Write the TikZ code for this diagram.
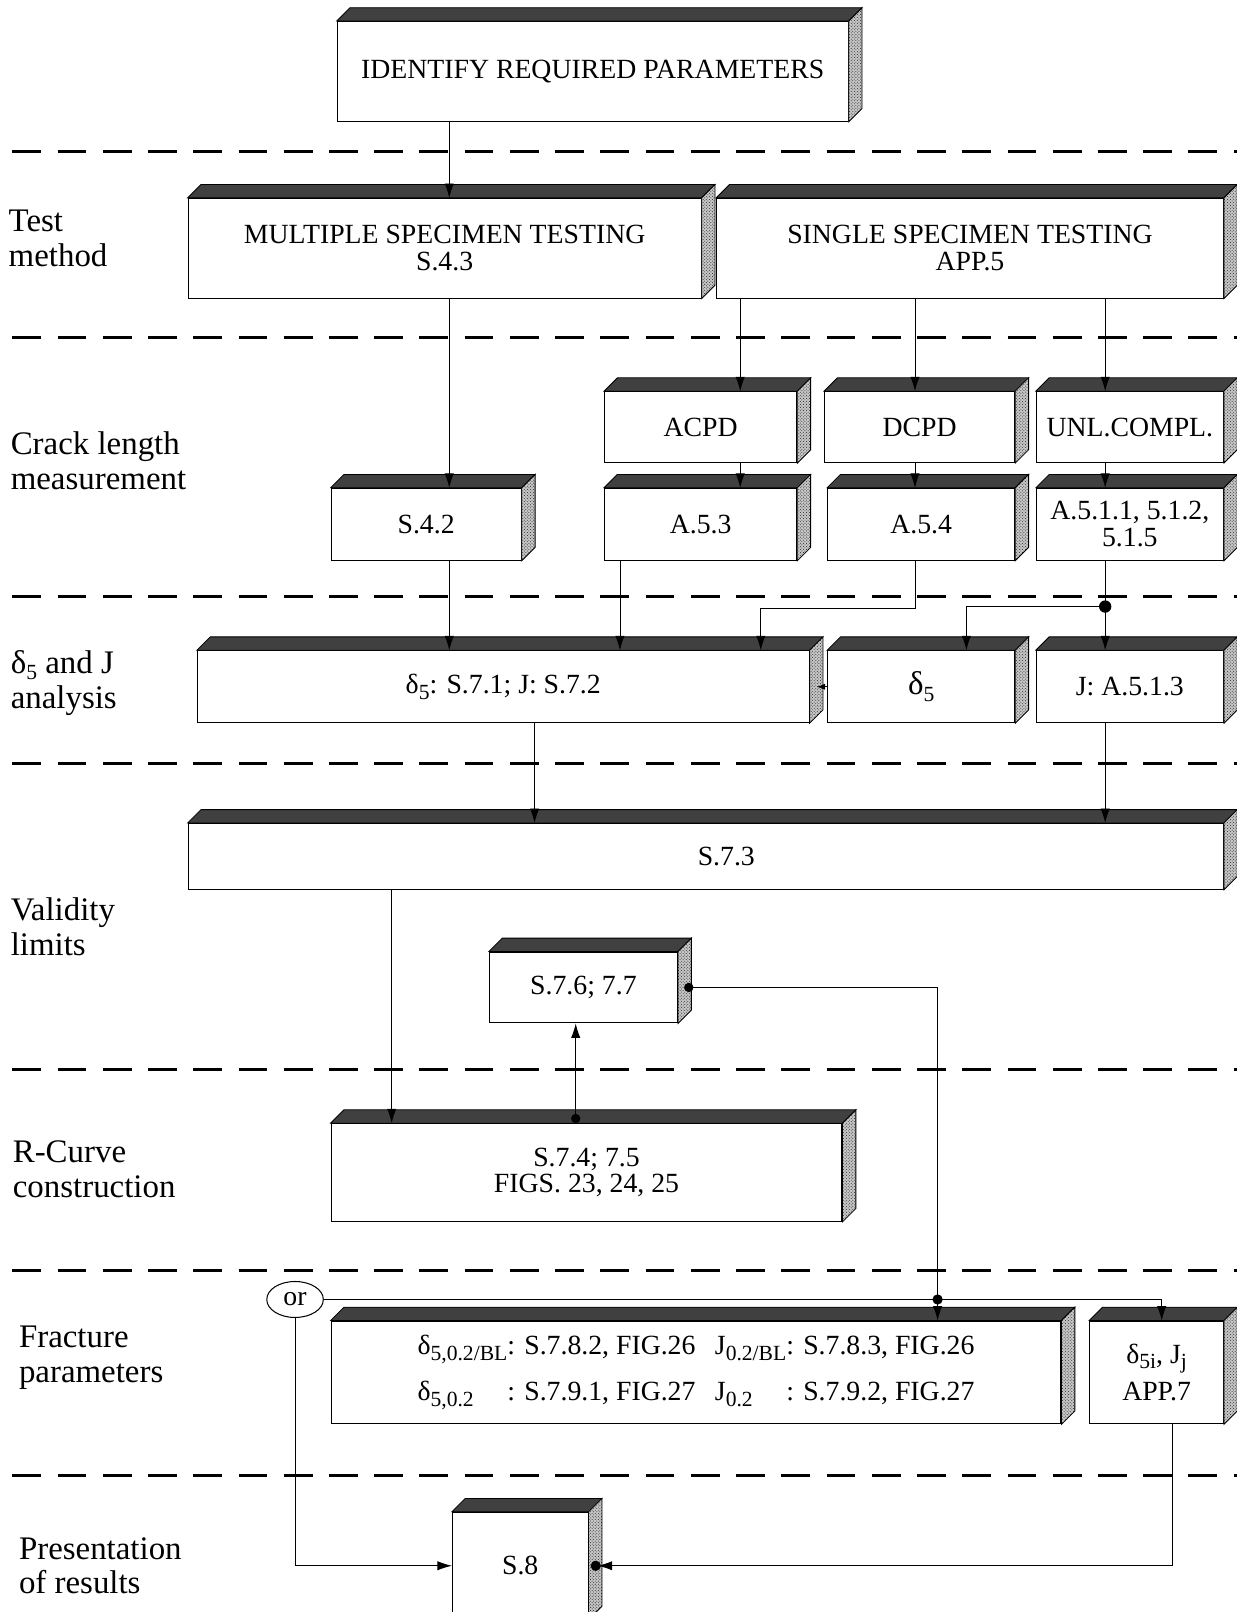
\documentclass[tikz,border=0pt]{standalone}
\usepackage{fontspec}
\setmainfont{Liberation Serif}
\usetikzlibrary{calc,arrows.meta,shapes.geometric,patterns}

\newcommand\boxfont{\fontsize{27}{26}\selectfont}
\newcommand\lblfont{\fontsize{32}{34}\selectfont}
\newcommand\sbs[1]{\raisebox{-0.45ex}{\fontsize{21}{21}\selectfont #1}}
% top and side face of a slab
\newcommand\slabfaces[1]{%
  \draw[topface] (#1.north west) -- ++(13,-13) -- ($(#1.north east)+(13,-13)$) -- (#1.north east) -- cycle;
  \draw[sideface] (#1.north east) -- ++(13,-13) -- ($(#1.south east)+(13,-13)$) -- (#1.south east) -- cycle;}

\begin{document}
\begin{tikzpicture}[x=1pt,y=-1pt,line width=1pt,>={Latex[length=14pt,width=9pt]}]
\tikzstyle{slab}=[draw,fill=white,rectangle,inner sep=0pt,align=center,font=\boxfont]
\tikzstyle{topface}=[fill=black!75,draw=black,line width=0.8pt]
\tikzstyle{sideface}=[preaction={fill=black!22},pattern=crosshatch dots,pattern color=black!85,draw=black,line width=0.8pt]
\tikzstyle{lbl}=[anchor=west,align=left,inner sep=0pt,font=\lblfont]
\tikzstyle{lane}=[line width=3pt,dash pattern=on 28pt off 16pt]
\tikzstyle{arr}=[->,line width=0.8pt]
\tikzstyle{dotarr}=[{Circle[length=9pt]}->,line width=0.8pt]
\clip (0,0) rectangle (1203,1568);

% lane separators
\foreach \y in {147,328,580,743,1040,1236,1435}
  \draw[lane] (12,\y) -- (1203,\y);

% start and test method
\node[slab,minimum width=497pt,minimum height=97pt] (identify) at (576.5,69.5) {IDENTIFY REQUIRED PARAMETERS};
\node[slab,minimum width=499pt,minimum height=97pt] (multiple) at (432.5,241.5) {MULTIPLE SPECIMEN TESTING\\S.4.3};
\node[slab,minimum width=493pt,minimum height=97pt] (single) at (943.5,241.5) {SINGLE SPECIMEN TESTING\\APP.5};

% crack length measurement
\node[slab,minimum width=187pt,minimum height=69pt] (acpd) at (681.5,415.5) {ACPD};
\node[slab,minimum width=185pt,minimum height=69pt] (dcpd) at (894.5,415.5) {DCPD};
\node[slab,minimum width=182pt,minimum height=69pt] (unl) at (1099,415.5) {UNL.COMPL.};
\node[slab,minimum width=185pt,minimum height=70pt] (s42) at (414.5,510) {S.4.2};
\node[slab,minimum width=187pt,minimum height=70pt] (a53) at (681.5,510) {A.5.3};
\node[slab,minimum width=182pt,minimum height=70pt] (a54) at (896,510) {A.5.4};
\node[slab,minimum width=182pt,minimum height=70pt] (a511) at (1099,510) {A.5.1.1, 5.1.2,\\5.1.5};

% delta5 and J analysis
\node[slab,minimum width=595pt,minimum height=70pt] (d5main) at (489.5,668) {δ\sbs{5}: S.7.1; J: S.7.2};
\node[slab,minimum width=182pt,minimum height=70pt] (d5) at (896,668) {\fontsize{32}{32}\selectfont δ\sbs{5}};
\node[slab,minimum width=182pt,minimum height=70pt] (jbox) at (1099,668) {J: A.5.1.3};

% validity, R-curve
\node[slab,minimum width=1007pt,minimum height=64pt] (s73) at (686.5,833) {\hspace*{40pt}S.7.3};
\node[slab,minimum width=183pt,minimum height=69pt] (s76) at (567.5,960.5) {S.7.6; 7.7};
\node[slab,minimum width=497pt,minimum height=95pt] (s74) at (570.5,1140.5) {S.7.4; 7.5\\FIGS. 23, 24, 25};

% fracture parameters and results
\node[slab,minimum width=710pt,minimum height=100pt] (frac) at (677,1335) {%
\begin{tabular}{@{}l@{}l@{\hspace{0.7em}}l@{}l@{}}
δ\sbs{5,0.2/BL}&: S.7.8.2, FIG.26&J\sbs{0.2/BL}&: S.7.8.3, FIG.26\\[18pt]
δ\sbs{5,0.2}&: S.7.9.1, FIG.27&J\sbs{0.2}&: S.7.9.2, FIG.27
\end{tabular}};
\node[slab,minimum width=130pt,minimum height=100pt] (d5i) at (1125,1335) {δ\sbs{5i}, J\sbs{j}\\[8pt]APP.7};
\node[slab,minimum width=132pt,minimum height=104pt] (s8) at (506,1523) {S.8};
\node[draw,ellipse,minimum width=55pt,minimum height=35pt,inner sep=0pt,font=\boxfont] (ornode) at (287,1264) {or};

\foreach \n in {identify,multiple,single,acpd,dcpd,unl,s42,a53,a54,a511,d5main,d5,jbox,s73,s76,s74,frac,d5i,s8}
  \slabfaces{\n};

% connector columns
\coordinate (colM) at (437,0);
\coordinate (colA) at (720,0);
\coordinate (colB) at (603,0);
\coordinate (colD) at (890,0);
\coordinate (colU) at (1075,0);
\coordinate (colE) at (520,0);
\coordinate (colR) at (381,0);
\coordinate (colS) at (560,0);
\coordinate (colF) at (912,0);
\coordinate (bendD) at (740,592);
\coordinate (jU) at (1075,590);

\draw[arr] (identify.south -| colM) -- (multiple.north -| colM);
\draw[arr] (multiple.south -| colM) -- (s42.north -| colM);
\draw[arr] (single.south -| colA) -- (acpd.north -| colA);
\draw[arr] (single.south -| colD) -- (dcpd.north -| colD);
\draw[arr] (single.south -| colU) -- (unl.north -| colU);
\draw[arr] (acpd.south -| colA) -- (a53.north -| colA);
\draw[arr] (dcpd.south -| colD) -- (a54.north -| colD);
\draw[arr] (unl.south -| colU) -- (a511.north -| colU);

\draw[arr] (s42.south -| colM) -- (d5main.north -| colM);
\draw[arr] (a53.south -| colB) -- (d5main.north -| colB);
\draw[arr] (a54.south -| colD) |- (bendD) -- (d5main.north -| bendD);
\draw[line width=0.8pt] (a511.south -| colU) -- (jU);
\draw[arr] (jU) -- (jbox.north -| jU);
\draw[arr] (jU) -| ($(d5.north)+(44,0)$);
\fill (jU) circle (6);
\draw[->,>={Latex[length=8pt,width=6pt]},line width=0.8pt] (d5.west) -- ($(d5main.east)+(7,0)$);

\draw[arr] (d5main.south -| colE) -- (s73.north -| colE);
\draw[arr] (jbox.south -| colU) -- (s73.north -| colU);
\draw[arr] (s73.south -| colR) -- (s74.north -| colR);
\draw[dotarr] (s74.north -| colS) -- (s76.south -| colS);
\draw[dotarr] ($(s76.east)+(6,0)$) -| (frac.north -| colF);
\fill (ornode.east -| colF) circle (5);
\draw[arr] (ornode.east) -| ($(d5i.north)+(5,0)$);
\draw[arr] (ornode.south) |- (s8.west);
\draw[arr] ($(d5i.south)+(15,0)$) |- ($(s8.east)+(9,0)$);
\fill ($(s8.east)+(7,0)$) circle (5);

% lane labels
\node[lbl] at (8,232) {Test\\method};
\node[lbl] at (10,448) {Crack length\\measurement};
\node[lbl] at (10,664) {δ\sbs{5} and J\\analysis};
\node[lbl] at (10,901) {Validity\\limits};
\node[lbl] at (12,1137) {R-Curve\\construction};
\node[lbl] at (18,1321) {Fracture\\parameters};
\node[lbl] at (18,1523) {Presentation\\of results};

\end{tikzpicture}
\end{document}
